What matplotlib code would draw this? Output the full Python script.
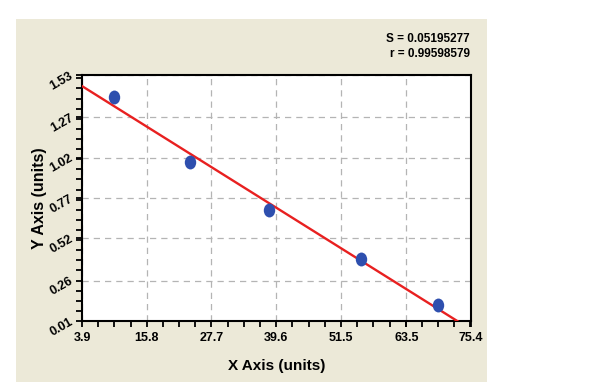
#! /usr/bin/env python3
# standard curve with linear fit, redrawn from a screenshot

import numpy as np
import matplotlib
matplotlib.use("Agg")
import matplotlib.pyplot as plt
from matplotlib.path import Path
from matplotlib.patches import Rectangle
from matplotlib.ticker import AutoMinorLocator

# data
x_points = [9.7, 23.8, 38.2, 55.1, 69.4]
y_points = [1.396, 0.995, 0.698, 0.394, 0.107]

x_ticks = [3.9, 15.8, 27.7, 39.6, 51.5, 63.5, 75.4]
y_ticks = [0.01, 0.26, 0.52, 0.77, 1.02, 1.27, 1.53]
x_tick_labels = ["3.9", "15.8", "27.7", "39.6", "51.5", "63.5", "75.4"]
y_tick_labels = ["0.01", "0.26", "0.52", "0.77", "1.02", "1.27", "1.53"]

stats_lines = ["S = 0.05195277", "r = 0.99598579"]

plt.rcParams["font.family"] = ["Liberation Sans", "DejaVu Sans"]
plt.rcParams["font.weight"] = "bold"

fig = plt.figure(figsize=(6.0, 3.91), dpi=100)
fig.patch.set_facecolor("white")

# beige panel behind the plot
fig.patches.append(Rectangle((0.0267, 0.023), 0.785, 0.928, transform=fig.transFigure,
                             facecolor="#ECE9D8", edgecolor="none", zorder=-10))

ax = fig.add_axes([0.1367, 0.179, 0.6483, 0.629])
ax.set_facecolor("white")

ax.set_xlim(x_ticks[0], x_ticks[-1])
ax.set_ylim(y_ticks[0], y_ticks[-1])

# ticks and grid
ax.set_xticks(x_ticks)
ax.set_yticks(y_ticks)
ax.set_xticklabels(x_tick_labels, fontsize=9, fontweight="bold")
ax.set_yticklabels(y_tick_labels, fontsize=9, fontweight="bold",
                   rotation=30, ha="right", va="center", rotation_mode="anchor")
ax.xaxis.set_minor_locator(AutoMinorLocator(4))
ax.yaxis.set_minor_locator(AutoMinorLocator(4))
ax.tick_params(axis="both", which="both", direction="out", length=4, width=1.3, color="black")
ax.tick_params(axis="x", which="major", pad=4)
ax.tick_params(axis="y", which="major", pad=3)
ax.grid(True, which="major", color="#b4b4b4", linestyle=(0, (5, 4)), linewidth=0.9)
ax.set_axisbelow(True)

for sp in ax.spines.values():
    sp.set_linewidth(1.5)
    sp.set_color("black")

# linear fit through the points
slope, intercept = np.polyfit(x_points, y_points, 1)
fit_x = np.array([x_ticks[0], x_ticks[-1]])
ax.plot(fit_x, slope * fit_x + intercept, color="#E82020", linewidth=1.7, zorder=3)

# slightly taller than wide dots
circ = Path.unit_circle()
dot = Path(circ.vertices * np.array([0.82, 1.0]), circ.codes)
ax.plot(x_points, y_points, linestyle="none", marker=dot, markersize=10,
        color="#2E4FAE", markeredgewidth=0, zorder=4)

ax.set_xlabel("X Axis (units)", fontsize=11, fontweight="bold", labelpad=11)
ax.set_ylabel("Y Axis (units)", fontsize=11.5, fontweight="bold", labelpad=1)

fig.text(0.783, 0.900, stats_lines[0], ha="right", va="center", fontsize=8.5, fontweight="bold")
fig.text(0.783, 0.862, stats_lines[1], ha="right", va="center", fontsize=8.5, fontweight="bold")

fig.savefig("out.png", dpi=100)
